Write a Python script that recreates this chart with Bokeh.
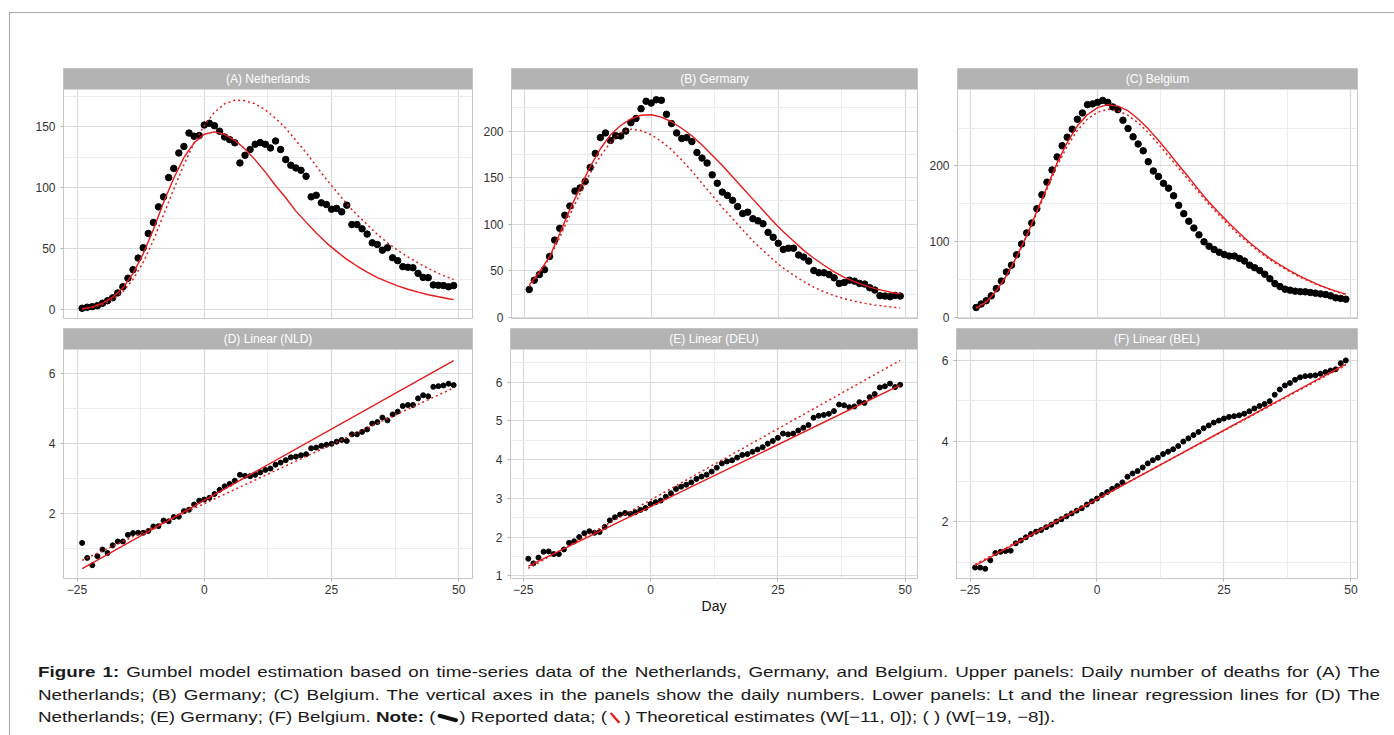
from bokeh.plotting import figure
from bokeh.layouts import row, column
from bokeh.models import Range1d, FixedTicker, BoxAnnotation, Label, Div, Spacer
from bokeh.embed import file_html
from bokeh.resources import INLINE

# ---------------- data ----------------
DAYS = list(range(-24, 50))
CURVE_DAYS = list(range(-24, 49, 2)) + [49]
LINE_DAYS = [-24, 49]
X_TICKS = [-25, 0, 25, 50]

NLD_deaths = [1.4, 2.2, 2.7, 3.5, 5.5, 7.6, 10.0, 14.0, 19.0, 26.0,
              33.0, 42.5, 51.0, 62.7, 71.7, 84.5, 92.7, 108.5, 116.0, 128.7,
              134.0, 145.0, 142.4, 143.0, 151.6, 153.0, 151.0, 146.5, 141.8, 139.6,
              137.0, 120.5, 126.8, 131.5, 135.8, 137.2, 135.8, 132.8, 138.5, 131.5,
              123.3, 118.6, 116.4, 114.5, 109.6, 92.7, 94.0, 87.8, 86.4, 82.6,
              83.2, 80.4, 85.9, 70.0, 70.0, 66.5, 62.2, 55.0, 53.7, 49.0,
              51.0, 42.8, 40.4, 35.5, 35.0, 34.6, 30.0, 26.7, 26.5, 20.5,
              20.2, 20.0, 19.0, 20.0]
NLD_fit_11_0 = [1.0, 2.5, 5.5, 10.5, 18, 30, 46, 66, 88, 108,
                125, 137, 144, 146, 144, 139, 132, 123, 113, 102,
                92, 81, 72, 63, 55, 48, 41.5, 36, 31, 26.5,
                23, 19.8, 17, 14.6, 12.5, 10.8, 9.2, 8.5]
NLD_fit_19_8 = [0.8, 2, 4.5, 8.5, 15, 25, 39, 57, 78, 99,
                119, 137, 151, 162, 169, 172, 171.5, 169, 164, 157,
                149, 139, 129, 118, 107, 97, 87, 78, 70, 62,
                55, 49, 43.5, 38.5, 34, 30, 26.5, 25]

DEU_deaths = [30, 40, 46, 51.3, 65.5, 83, 95.6, 109.7, 119.6, 135.6,
              139, 146, 161, 176, 193, 198, 190, 195, 194.7, 200,
              209, 213.5, 224, 232, 230, 233.6, 233, 218, 208, 198,
              192, 193, 188.7, 177, 171, 165.7, 153, 144, 134.5, 131,
              125.7, 119, 111.5, 113, 106, 103.7, 100.5, 91.3, 86, 79.6,
              73, 74.3, 74.3, 67, 64.8, 60.5, 50.3, 48, 48, 46,
              42.5, 36.5, 37.5, 40, 39, 36.5, 35.8, 31.9, 29.4, 23.4,
              23, 22.3, 23.7, 23]
DEU_fit_11_0 = [35, 49, 65, 90, 116, 139, 162, 181, 196, 206,
                213, 217, 217.5, 215, 210, 203, 195, 185, 174, 163,
                151, 139, 127, 115, 103, 92, 82, 72, 63.5, 56,
                49, 43, 38.5, 34.5, 31, 28.5, 26, 25.5]
DEU_fit_19_8 = [33, 47, 64, 86, 110, 133, 155, 173, 188, 198,
                202, 200.5, 196, 189, 180, 169, 157, 144, 131, 118,
                106, 94, 82, 72, 62, 53, 45.5, 38.5, 32.5, 27.5,
                23.5, 20, 17.5, 15.2, 13.4, 12, 10.8, 10.3]

BEL_deaths = [13, 17.5, 22, 28.4, 38, 48, 60, 69, 82.7, 97,
              111.6, 124.7, 143.5, 162, 178.6, 194.7, 212, 226.7, 238, 248.6,
              261.7, 270, 281, 282, 284, 286.6, 284, 278, 274.4, 260.4,
              249.5, 238.5, 229, 220, 205.7, 193.4, 186, 177, 170.7, 160.6,
              148, 137, 127, 118, 109, 99.8, 94, 89.7, 86, 83,
              81, 81, 77.9, 74.4, 69, 65.6, 62, 57, 51, 44.6,
              40.7, 37.2, 35.9, 34.6, 34, 33.7, 32.8, 32, 31, 30.2,
              28.4, 25.8, 25, 24]
BEL_fit_11_0 = [12, 20, 35, 55, 80, 108, 140, 172, 204, 231,
                253, 268, 277, 281, 279, 273, 262, 249, 234, 218,
                201, 185, 168, 152, 138, 124, 111, 99, 88, 78,
                69.5, 61.5, 54, 48, 42, 37, 32.7, 30.6]
BEL_fit_19_8 = [13, 21, 35, 54, 79, 107, 138, 169, 200, 226,
                247, 262, 271, 275, 273, 267, 257, 244, 229, 213,
                197, 181, 165, 149, 135, 121, 108, 97, 86, 76,
                68, 60, 53, 47, 41.5, 36.5, 32, 30]

NLD_Lt = [1.15, 0.72, 0.51, 0.77, 0.96, 0.86, 1.08, 1.19, 1.19, 1.38,
          1.43, 1.44, 1.44, 1.49, 1.62, 1.63, 1.79, 1.77, 1.89, 1.90,
          2.06, 2.10, 2.25, 2.36, 2.39, 2.44, 2.55, 2.67, 2.77, 2.84,
          2.93, 3.10, 3.07, 3.06, 3.10, 3.17, 3.24, 3.28, 3.39, 3.45,
          3.52, 3.60, 3.62, 3.66, 3.69, 3.86, 3.88, 3.93, 3.96, 3.99,
          4.05, 4.10, 4.07, 4.26, 4.26, 4.33, 4.40, 4.57, 4.61, 4.74,
          4.66, 4.83, 4.91, 5.07, 5.10, 5.10, 5.29, 5.38, 5.35, 5.62,
          5.64, 5.66, 5.71, 5.67]
NLD_reg_11_0 = [0.41, 6.37]
NLD_reg_19_8 = [0.65, 5.59]

DEU_Lt = [1.44, 1.32, 1.47, 1.62, 1.63, 1.56, 1.56, 1.68, 1.85, 1.89,
          2.00, 2.10, 2.15, 2.11, 2.13, 2.26, 2.43, 2.51, 2.58, 2.62,
          2.60, 2.64, 2.70, 2.75, 2.85, 2.90, 2.94, 3.04, 3.13, 3.24,
          3.30, 3.35, 3.41, 3.50, 3.56, 3.61, 3.69, 3.79, 3.90, 3.95,
          3.98, 4.05, 4.12, 4.14, 4.20, 4.26, 4.32, 4.41, 4.48, 4.56,
          4.67, 4.65, 4.67, 4.75, 4.82, 4.89, 5.08, 5.13, 5.15, 5.18,
          5.25, 5.42, 5.40, 5.35, 5.37, 5.48, 5.46, 5.61, 5.69, 5.86,
          5.89, 5.96, 5.87, 5.93]
DEU_reg_11_0 = [1.25, 5.92]
DEU_reg_19_8 = [1.19, 6.56]

BEL_Lt = [0.87, 0.87, 0.84, 1.05, 1.23, 1.26, 1.28, 1.29, 1.47, 1.54,
          1.62, 1.70, 1.76, 1.80, 1.87, 1.93, 2.01, 2.07, 2.14, 2.21,
          2.28, 2.34, 2.43, 2.51, 2.58, 2.67, 2.74, 2.82, 2.89, 2.98,
          3.12, 3.20, 3.26, 3.35, 3.45, 3.53, 3.59, 3.68, 3.74, 3.80,
          3.88, 3.99, 4.07, 4.15, 4.23, 4.32, 4.39, 4.46, 4.51, 4.56,
          4.60, 4.62, 4.64, 4.68, 4.74, 4.81, 4.87, 4.92, 4.99, 5.15,
          5.28, 5.38, 5.44, 5.52, 5.58, 5.61, 5.62, 5.63, 5.67, 5.71,
          5.75, 5.78, 5.93, 6.00]
BEL_reg_11_0 = [0.92, 5.91]
BEL_reg_19_8 = [0.95, 5.88]

# ---------------- styling ----------------
FONT = "Liberation Sans"
RED = "#e41a1c"
STRIP_FILL = "#b3b3b3"
FRAME_H = 250
STRIP = 21


def panel(title, width, bl, br, bt, bb, xr, ylo, yhi, yticks, yminor,
          show_x=False, xlabel=None):
    height = bt + FRAME_H + bb
    yext = yhi + (yhi - ylo) * STRIP / (FRAME_H - STRIP)
    p = figure(width=width, height=height, x_range=Range1d(xr[0], xr[1]),
               y_range=Range1d(ylo, yext), output_backend="svg",
               toolbar_location=None, title=None,
               min_border_left=bl, min_border_right=br,
               min_border_top=bt, min_border_bottom=bb)
    p.margin = 0
    p.background_fill_color = "white"
    p.border_fill_color = "white"
    p.outline_line_color = "#c8c8c8"
    p.outline_line_width = 1

    xt = FixedTicker(ticks=X_TICKS, minor_ticks=[-12.5, 12.5, 37.5])
    yt = FixedTicker(ticks=yticks, minor_ticks=yminor)
    p.xaxis.ticker = xt
    p.yaxis.ticker = yt
    p.xgrid.ticker = xt
    p.ygrid.ticker = yt
    for g in (p.xgrid, p.ygrid):
        g.grid_line_color = "#dadada"
        g.grid_line_width = 1.2
        g.minor_grid_line_color = "#ececec"
        g.minor_grid_line_width = 1

    for ax in (p.xaxis, p.yaxis):
        ax.axis_line_color = None
        ax.major_tick_line_color = "#b3b3b3"
        ax.major_tick_out = 3
        ax.major_tick_in = 0
        ax.minor_tick_line_color = None
        ax.major_label_text_font = FONT
        ax.major_label_text_font_size = "12px"
        ax.major_label_text_color = "#333333"
    p.yaxis.major_label_standoff = 4
    p.xaxis.major_label_standoff = 2
    if show_x:
        p.xaxis.major_label_overrides = {-25: "\u221225", 0: "0", 25: "25", 50: "50"}
        if xlabel:
            p.xaxis.axis_label = xlabel
            p.xaxis.axis_label_text_font = FONT
            p.xaxis.axis_label_text_font_size = "14px"
            p.xaxis.axis_label_text_font_style = "normal"
            p.xaxis.axis_label_text_color = "#111111"
            p.xaxis.axis_label_standoff = 1
    else:
        p.xaxis.visible = False

    p.add_layout(BoxAnnotation(bottom=yhi, fill_color=STRIP_FILL, fill_alpha=1.0,
                               line_alpha=0))
    p.add_layout(Label(x=(xr[0] + xr[1]) / 2, y=(yhi + yext) / 2, text=title,
                       text_align="center", text_baseline="middle",
                       text_color="white", text_font=FONT,
                       text_font_size="12px"))
    return p


def add_series(p, y, fit_days, fit_a, fit_b, size):
    p.scatter(DAYS, y, size=size, color="black", marker="circle")
    p.line(fit_days, fit_a, line_color=RED, line_width=1.4)
    p.line(fit_days, fit_b, line_color=RED, line_width=1.5, line_dash="2 3")


XR_A = (-27.66, 52.7)
XR_B = (-27.49, 52.4)
XR_C = (-27.66, 51.3)

UP_BT, UP_BB = 55, 8
LO_BT, LO_BB = 2, 45

pA = panel("(A) Netherlands", 470, 53, 8, UP_BT, UP_BB, XR_A, -7.0, 180.7,
           [0, 50, 100, 150], [25, 75, 125, 175])
add_series(pA, NLD_deaths, CURVE_DAYS, NLD_fit_11_0, NLD_fit_19_8, 6.5)

pB = panel("(B) Germany", 446, 30, 9, UP_BT, UP_BB, XR_B, -1.1, 244.6,
           [0, 50, 100, 150, 200], [25, 75, 125, 175, 225])
add_series(pB, DEU_deaths, CURVE_DAYS, DEU_fit_11_0, DEU_fit_19_8, 6.5)

pC = panel("(C) Belgium", 468, 30, 37, UP_BT, UP_BB, XR_C, -1.5, 301.0,
           [0, 100, 200], [50, 150, 250])
add_series(pC, BEL_deaths, CURVE_DAYS, BEL_fit_11_0, BEL_fit_19_8, 6.5)

pD = panel("(D) Linear (NLD)", 470, 53, 8, LO_BT, LO_BB, XR_A, 0.13, 6.69,
           [2, 4, 6], [1, 3, 5], show_x=True)
add_series(pD, NLD_Lt, LINE_DAYS, NLD_reg_11_0, NLD_reg_19_8, 5)

pE = panel("(E) Linear (DEU)", 446, 30, 9, LO_BT, LO_BB, XR_B, 0.93, 6.84,
           [1, 2, 3, 4, 5, 6], [1.5, 2.5, 3.5, 4.5, 5.5, 6.5], show_x=True,
           xlabel="Day")
add_series(pE, DEU_Lt, LINE_DAYS, DEU_reg_11_0, DEU_reg_19_8, 5)

pF = panel("(F) Linear (BEL)", 468, 30, 37, LO_BT, LO_BB, XR_C, 0.6, 6.27,
           [2, 4, 6], [1, 3, 5], show_x=True)
add_series(pF, BEL_Lt, LINE_DAYS, BEL_reg_11_0, BEL_reg_19_8, 5)

# ---------------- caption ----------------
icon_dots = ('<span style="display:inline-block;width:17px;height:4px;background:#111;'
             'border-radius:2px;transform:rotate(20deg);vertical-align:middle;'
             'margin:0 1px;"></span>')
icon_red = ('<span style="display:inline-block;width:12px;height:1.5px;background:#e41a1c;'
            'transform:rotate(55deg);vertical-align:middle;margin:0 1px;"></span>')
line1 = ("<b>Figure 1:</b> Gumbel model estimation based on time-series data of the "
         "Netherlands, Germany, and Belgium. Upper panels: Daily number of deaths for (A) The")
line2 = ("Netherlands; (B) Germany; (C) Belgium. The vertical axes in the panels show the "
         "daily numbers. Lower panels: Lt and the linear regression lines for (D) The")
line3 = ("Netherlands; (E) Germany; (F) Belgium. <b>Note:</b> (" + icon_dots +
         ") Reported data; (" + icon_red + ") Theoretical estimates (W[\u221211, 0]); "
         "( ) (W[\u221219, \u22128]).")
SCALE = 1.255
cap_html = (
    '<div style="padding-top:38px;padding-left:28px;'
    "font-family:'Liberation Sans',Arial,sans-serif;font-size:15px;"
    'line-height:22.5px;color:#1a1a1a;">'
    f'<div style="width:{1342 / SCALE:.1f}px;transform:scaleX({SCALE});transform-origin:0 0;">'
    f'<div style="text-align:justify;text-align-last:justify;">{line1}</div>'
    f'<div style="text-align:justify;text-align-last:justify;">{line2}</div>'
    f'<div>{line3}</div>'
    '</div></div>'
)
caption = Div(text=cap_html, width=1384, height=112, margin=0)

upper = row(pA, pB, pC, margin=0)
lower = row(pD, pE, pF, margin=0)
content = column(upper, lower, caption, margin=0)

hline = Div(text="", width=1385, height=1, margin=0,
            styles={"background-color": "#a8a8a8"})
vline = Div(text="", width=1, height=722, margin=0,
            styles={"background-color": "#a8a8a8"})

root = column(
    Spacer(width=1394, height=12, margin=0),
    row(Spacer(width=9, height=1, margin=0), hline, margin=0),
    row(Spacer(width=9, height=722, margin=0), vline, content, margin=0),
    margin=0,
)

open("out.html", "w").write(file_html(root, INLINE))
